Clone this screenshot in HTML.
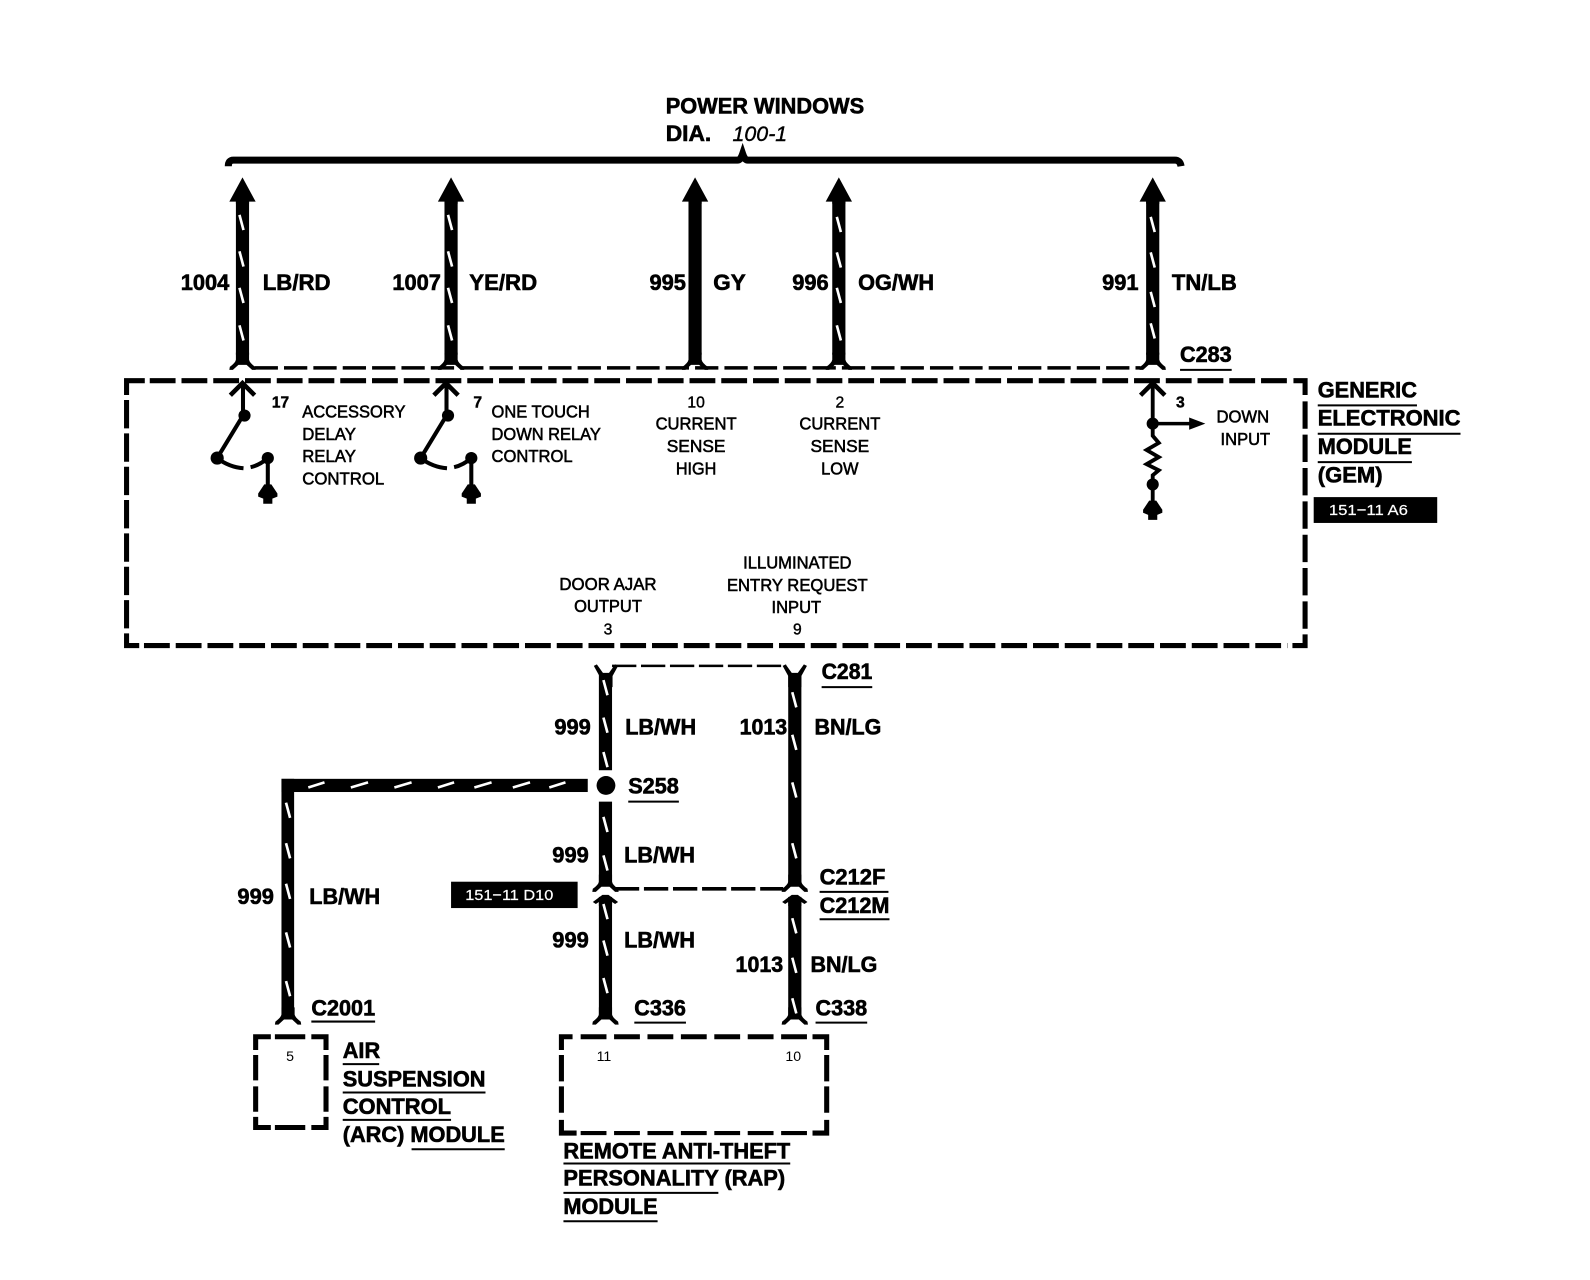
<!DOCTYPE html>
<html><head><meta charset="utf-8"><style>
html,body{margin:0;padding:0;background:#fff}
svg{display:block}
text{font-family:"Liberation Sans",sans-serif;fill:#000}
.b{font-weight:bold;font-size:22px;stroke:#000;stroke-width:.6px}
.s{font-size:17px;stroke:#000;stroke-width:.55px}
.c{text-anchor:middle}
.n{font-size:15.500px;stroke:#000;stroke-width:.4px}
.m{font-size:14px}
.w{fill:#fff;font-size:15px;stroke:#fff;stroke-width:.2px}
.u{stroke:#000;stroke-width:2;fill:none}
.d{fill:none;stroke:#000}
</style></head><body>
<svg xmlns="http://www.w3.org/2000/svg" width="1590" height="1280" viewBox="-1.5 0 1570.4 1263" preserveAspectRatio="none">
<defs>
<path id="t" d="M-2 0L2 15" stroke="#fff" stroke-width="2.600" fill="none"/>
<path id="up" d="M0 -23L13 1H6.500V3H-6.500V1H-13Z" fill="#000"/>
<path id="fk" d="M-6.500 -14V-7Q-7 -4 -12.500 0L-13 3H-9.500L-4 -2H4L9.500 3H13L12.500 0Q7 -4 6.500 -7V-14Z" fill="#000"/>
<path id="yf" d="M-6.500 14V3L-12 -7L-9 -8.500L-3 0H3L9 -8.500L12 -7L6.500 3V14Z" fill="#000"/>
<path id="ah" d="M-6.500 10V6L-9.500 8L-12.500 6L-3 -1H3L12.500 6L9.500 8L6.500 6V10Z" fill="#000"/>
<g id="gnd"><path d="M-3.500 -9H3.500L9.500 0V3L4.500 5V10H-4.500V5L-9.500 3V0Z" fill="#000"/></g>
</defs>

<!-- brace -->
<path d="M224 164Q224 158 229 158H727Q730 158 732 152Q734 158 737 158H1159Q1164 158 1165 164" fill="none" stroke="#000" stroke-width="7"/>
<text class="b" x="656" y="112" textLength="196" lengthAdjust="spacingAndGlyphs">POWER WINDOWS</text>
<text class="b" x="656" y="139" textLength="45" lengthAdjust="spacingAndGlyphs">DIA.</text>
<text x="722" y="139" font-size="21" font-style="italic" textLength="54" lengthAdjust="spacingAndGlyphs" stroke="#000" stroke-width=".4">100-1</text>

<!-- upper wires -->
<g fill="#000">
<rect x="231.500" y="195" width="13" height="155"/><rect x="437.500" y="195" width="13" height="155"/><rect x="678.500" y="195" width="13" height="155"/><rect x="820.500" y="195" width="13" height="155"/><rect x="1130.500" y="195" width="13" height="155"/>
</g>
<use href="#up" x="238" y="198"/><use href="#up" x="444" y="198"/><use href="#up" x="685" y="198"/><use href="#up" x="827" y="198"/><use href="#up" x="1137" y="198"/>
<use href="#fk" x="238" y="362"/><use href="#fk" x="444" y="362"/><use href="#fk" x="685" y="362"/><use href="#fk" x="827" y="362"/><use href="#fk" x="1137" y="362"/>
<use href="#t" x="237" y="212"/><use href="#t" x="237" y="248"/><use href="#t" x="237" y="284"/><use href="#t" x="237" y="321"/>
<use href="#t" x="443" y="212"/><use href="#t" x="443" y="248"/><use href="#t" x="443" y="284"/><use href="#t" x="443" y="321"/>
<use href="#t" x="827" y="214"/><use href="#t" x="827" y="249"/><use href="#t" x="827" y="284"/><use href="#t" x="827" y="321"/>
<use href="#t" x="1137" y="214"/><use href="#t" x="1137" y="249"/><use href="#t" x="1137" y="288"/><use href="#t" x="1137" y="319"/>

<path class="d" d="M250 363H1125" stroke-width="3.500" stroke-dasharray="23 6"/>

<text x="177" y="286" class="b" textLength="48" lengthAdjust="spacingAndGlyphs">1004</text>
<text x="258" y="286" class="b" textLength="67" lengthAdjust="spacingAndGlyphs">LB/RD</text>
<text x="386" y="286" class="b" textLength="48" lengthAdjust="spacingAndGlyphs">1007</text>
<text x="462" y="286" class="b" textLength="67" lengthAdjust="spacingAndGlyphs">YE/RD</text>
<text x="640" y="286" class="b" textLength="36" lengthAdjust="spacingAndGlyphs">995</text>
<text x="703" y="286" class="b" textLength="32" lengthAdjust="spacingAndGlyphs">GY</text>
<text x="781" y="286" class="b" textLength="36" lengthAdjust="spacingAndGlyphs">996</text>
<text x="846" y="286" class="b" textLength="75" lengthAdjust="spacingAndGlyphs">OG/WH</text>
<text x="1087" y="286" class="b" textLength="36" lengthAdjust="spacingAndGlyphs">991</text>
<text x="1156" y="286" class="b" textLength="64" lengthAdjust="spacingAndGlyphs">TN/LB</text>
<text x="1164" y="357" class="b" textLength="51" lengthAdjust="spacingAndGlyphs">C283</text>
<path class="u" d="M1164 365H1215"/>

<!-- GEM box -->
<g class="d" stroke-width="5">
<path d="M123.500 389.700V375.600H141.500"/>
<path d="M146.400 375.600H1271" stroke-dasharray="25.500 5.860"/>
<path d="M1276 375.600H1287.500V389.700"/>
<path d="M123.500 394.700V620" stroke-dasharray="28 4.900"/>
<path d="M1287.500 396V621" stroke-dasharray="27 5.900"/>
<path d="M123.500 625V637H136"/>
<path d="M140.700 637H1270" stroke-dasharray="25.500 5.860"/>
<path d="M1287.500 626V637H1275"/>
</g>
<text class="b" x="1300" y="392" textLength="98" lengthAdjust="spacingAndGlyphs">GENERIC</text>
<text class="b" x="1300" y="420" textLength="141" lengthAdjust="spacingAndGlyphs">ELECTRONIC</text>
<text class="b" x="1300" y="448" textLength="93" lengthAdjust="spacingAndGlyphs">MODULE</text>
<text class="b" x="1300" y="476" textLength="64" lengthAdjust="spacingAndGlyphs">(GEM)</text>
<path class="u" d="M1300 400H1398M1300 428H1441M1300 456H1393"/>
<rect x="1296" y="490.500" width="122" height="25.500" fill="#000"/>
<text class="w" x="1311" y="508" textLength="78" lengthAdjust="spacingAndGlyphs">151−11 A6</text>

<!-- relay 1 -->
<path d="M226 390L238 378L250 390" class="d" stroke-width="4.500"/>
<path d="M238.500 378V410L213 452" class="d" stroke-width="4"/>
<circle cx="240" cy="410" r="6"/><circle cx="213" cy="452" r="6.500"/>
<path d="M213 452Q225 461 239 462M246 461Q255 459 263 452" class="d" stroke-width="4"/>
<circle cx="263" cy="452" r="6"/>
<path d="M263 452V482" class="d" stroke-width="4"/>
<use href="#gnd" x="263" y="487"/>
<!-- relay 2 -->
<g transform="translate(201 0)">
<path d="M226 390L238 378L250 390" class="d" stroke-width="4.500"/>
<path d="M238.500 378V410L213 452" class="d" stroke-width="4"/>
<circle cx="240" cy="410" r="6"/><circle cx="213" cy="452" r="6.500"/>
<path d="M213 452Q225 461 239 462M246 461Q255 459 263 452" class="d" stroke-width="4"/>
<circle cx="263" cy="452" r="6"/>
<path d="M263 452V482" class="d" stroke-width="4"/>
<use href="#gnd" x="263" y="487"/>
</g>
<!-- resistor input -->
<path d="M1125 390L1137 378L1149 390" class="d" stroke-width="4.500"/>
<path d="M1137 378V430L1143 437L1131 444L1143 451L1131 458L1143 464L1137 469V495" class="d" stroke-width="3.800"/>
<path d="M1137 418H1176" class="d" stroke-width="3.500"/>
<path d="M1173 412L1189 418L1173 424Z"/>
<circle cx="1137" cy="418" r="6"/><circle cx="1137" cy="478" r="6"/>
<use href="#gnd" x="1137" y="503"/>

<g class="s">
<text class="n" x="267" y="402" font-weight="bold" textLength="17" lengthAdjust="spacingAndGlyphs">17</text>
<text x="297" y="412" textLength="102" lengthAdjust="spacingAndGlyphs">ACCESSORY</text>
<text x="297" y="434" textLength="53" lengthAdjust="spacingAndGlyphs">DELAY</text>
<text x="297" y="456" textLength="53" lengthAdjust="spacingAndGlyphs">RELAY</text>
<text x="297" y="478" textLength="81" lengthAdjust="spacingAndGlyphs">CONTROL</text>
<text class="n" x="466" y="402" font-weight="bold">7</text>
<text x="484" y="412" textLength="97" lengthAdjust="spacingAndGlyphs">ONE TOUCH</text>
<text x="484" y="434" textLength="108" lengthAdjust="spacingAndGlyphs">DOWN RELAY</text>
<text x="484" y="456" textLength="80" lengthAdjust="spacingAndGlyphs">CONTROL</text>
<text class="n c" x="686" y="402">10</text>
<text class="c" x="686" y="424" textLength="80" lengthAdjust="spacingAndGlyphs">CURRENT</text>
<text class="c" x="686" y="446" textLength="58" lengthAdjust="spacingAndGlyphs">SENSE</text>
<text class="c" x="686" y="468" textLength="40" lengthAdjust="spacingAndGlyphs">HIGH</text>
<text class="n c" x="828" y="402">2</text>
<text class="c" x="828" y="424" textLength="80" lengthAdjust="spacingAndGlyphs">CURRENT</text>
<text class="c" x="828" y="446" textLength="58" lengthAdjust="spacingAndGlyphs">SENSE</text>
<text class="c" x="828" y="468" textLength="37" lengthAdjust="spacingAndGlyphs">LOW</text>
<text class="n" x="1160" y="402" font-weight="bold">3</text>
<text x="1200" y="417" textLength="52" lengthAdjust="spacingAndGlyphs">DOWN</text>
<text x="1204" y="439" textLength="49" lengthAdjust="spacingAndGlyphs">INPUT</text>
<text class="c" x="786" y="561" textLength="107" lengthAdjust="spacingAndGlyphs">ILLUMINATED</text>
<text class="c" x="786" y="583" textLength="139" lengthAdjust="spacingAndGlyphs">ENTRY REQUEST</text>
<text class="c" x="785" y="605" textLength="49" lengthAdjust="spacingAndGlyphs">INPUT</text>
<text class="n c" x="786" y="626">9</text>
<text class="c" x="599" y="582" textLength="96" lengthAdjust="spacingAndGlyphs">DOOR AJAR</text>
<text class="c" x="599" y="604" textLength="67" lengthAdjust="spacingAndGlyphs">OUTPUT</text>
<text class="n c" x="599" y="626">3</text>
</g>
<text class="m c" x="285" y="1047">5</text>
<text class="m c" x="595" y="1047">11</text>
<text class="m c" x="782" y="1047">10</text>

<!-- lower wires -->
<path class="d" d="M603 657H775" stroke-width="2.500" stroke-dasharray="24 4.600"/>
<path class="d" d="M605.800 877H772" stroke-width="3.500" stroke-dasharray="24 4.700"/>
<g fill="#000">
<rect x="590" y="665" width="13" height="95"/>
<rect x="590" y="791" width="13" height="83"/>
<rect x="777" y="665" width="13" height="208"/>
<rect x="590" y="885" width="13" height="118"/>
<rect x="777" y="885" width="13" height="118"/>
<rect x="276.500" y="768.500" width="302.500" height="13"/>
<rect x="276.500" y="768.500" width="12.500" height="234"/>
</g>
<circle cx="597" cy="775" r="9.300" fill="#000"/>
<use href="#yf" x="597" y="664"/><use href="#yf" x="783.500" y="664"/>
<use href="#fk" x="596.500" y="877"/><use href="#fk" x="783.500" y="877"/>
<use href="#ah" x="596.500" y="884"/><use href="#ah" x="783.500" y="884"/>
<use href="#fk" x="596.500" y="1008"/><use href="#fk" x="783.500" y="1008"/><use href="#fk" x="283" y="1008"/>

<use href="#t" x="596.500" y="671"/><use href="#t" x="596.500" y="708"/><use href="#t" x="596.500" y="742"/><use href="#t" x="596.500" y="806"/><use href="#t" x="596.500" y="844"/>
<use href="#t" x="596.500" y="892"/><use href="#t" x="596.500" y="928"/><use href="#t" x="596.500" y="965"/>
<use href="#t" x="783" y="683"/><use href="#t" x="783" y="725"/><use href="#t" x="783" y="772"/><use href="#t" x="783" y="832"/>
<use href="#t" x="783" y="906"/><use href="#t" x="783" y="945"/><use href="#t" x="783" y="985"/>
<use href="#t" x="283" y="792"/><use href="#t" x="283" y="832"/><use href="#t" x="283" y="872"/><use href="#t" x="283" y="920"/><use href="#t" x="283" y="968"/>
<g stroke="#fff" stroke-width="2.600" fill="none">
<path d="M303 777L319 772M345 777L362 772M388 777L405 772M431 777L447 772M467 777L484 772M505 777L522 772M541 777L557 772"/>
</g>

<text class="b" x="546" y="725" textLength="36" lengthAdjust="spacingAndGlyphs">999</text>
<text class="b" x="616" y="725" textLength="70" lengthAdjust="spacingAndGlyphs">LB/WH</text>
<text class="b" x="729" y="725" textLength="47" lengthAdjust="spacingAndGlyphs">1013</text>
<text class="b" x="803" y="725" textLength="66" lengthAdjust="spacingAndGlyphs">BN/LG</text>
<text class="b" x="619" y="783" textLength="50" lengthAdjust="spacingAndGlyphs">S258</text>
<text class="b" x="810" y="670" textLength="50" lengthAdjust="spacingAndGlyphs">C281</text>
<text class="b" x="544" y="851" textLength="36" lengthAdjust="spacingAndGlyphs">999</text>
<text class="b" x="615" y="851" textLength="70" lengthAdjust="spacingAndGlyphs">LB/WH</text>
<text class="b" x="808" y="873" textLength="65" lengthAdjust="spacingAndGlyphs">C212F</text>
<text class="b" x="808" y="901" textLength="69" lengthAdjust="spacingAndGlyphs">C212M</text>
<text class="b" x="544" y="935" textLength="36" lengthAdjust="spacingAndGlyphs">999</text>
<text class="b" x="615" y="935" textLength="70" lengthAdjust="spacingAndGlyphs">LB/WH</text>
<text class="b" x="725" y="959" textLength="47" lengthAdjust="spacingAndGlyphs">1013</text>
<text class="b" x="799" y="959" textLength="66" lengthAdjust="spacingAndGlyphs">BN/LG</text>
<text class="b" x="233" y="892" textLength="36" lengthAdjust="spacingAndGlyphs">999</text>
<text class="b" x="304" y="892" textLength="70" lengthAdjust="spacingAndGlyphs">LB/WH</text>
<text class="b" x="306" y="1002" textLength="63" lengthAdjust="spacingAndGlyphs">C2001</text>
<text class="b" x="625" y="1002" textLength="51" lengthAdjust="spacingAndGlyphs">C336</text>
<text class="b" x="804" y="1002" textLength="51" lengthAdjust="spacingAndGlyphs">C338</text>
<path class="u" d="M619 791H669M810 678H860M808 880H876M808 907H877M306 1008H369M625 1009H676M804 1009H855"/>

<rect x="444" y="870" width="125" height="26" fill="#000"/>
<text class="w" x="458" y="888" textLength="87" lengthAdjust="spacingAndGlyphs">151−11 D10</text>

<!-- ARC -->
<path class="d" stroke-width="5" d="M251 1036V1023H266M270 1023H300M306 1023H320.500V1036M251 1041V1066M320.500 1041V1066M251 1072V1097M320.500 1072V1097M251 1102V1112.500H266M270 1112.500H300M306 1112.500H320.500V1102"/>
<text class="b" x="337" y="1044" textLength="37" lengthAdjust="spacingAndGlyphs">AIR</text>
<text class="b" x="337" y="1072" textLength="141" lengthAdjust="spacingAndGlyphs">SUSPENSION</text>
<text class="b" x="337" y="1099" textLength="107" lengthAdjust="spacingAndGlyphs">CONTROL</text>
<text class="b" x="337" y="1127" textLength="160" lengthAdjust="spacingAndGlyphs">(ARC) MODULE</text>
<path class="u" d="M337 1050H373M337 1078H478M337 1105H444M405 1134H497"/>

<!-- RAP -->
<g class="d" stroke-width="5">
<path d="M553 1036V1023H564"/>
<path d="M572 1023H796" stroke-dasharray="25.500 7.500"/>
<path d="M801 1023H815V1036"/>
<path d="M553 1041V1067M553 1072V1098M815 1041V1067M815 1072V1098"/>
<path d="M553 1105V1118H568"/>
<path d="M572 1118H796" stroke-width="4" stroke-dasharray="25.500 7.500"/>
<path d="M801 1118H815V1105"/>
</g>
<text class="b" x="555" y="1143" textLength="224" lengthAdjust="spacingAndGlyphs">REMOTE ANTI-THEFT</text>
<text class="b" x="555" y="1170" textLength="219" lengthAdjust="spacingAndGlyphs">PERSONALITY (RAP)</text>
<text class="b" x="555" y="1198" textLength="93" lengthAdjust="spacingAndGlyphs">MODULE</text>
<path class="u" d="M555 1148H779M555 1177H708M555 1205H648"/>
</svg>
</body></html>
